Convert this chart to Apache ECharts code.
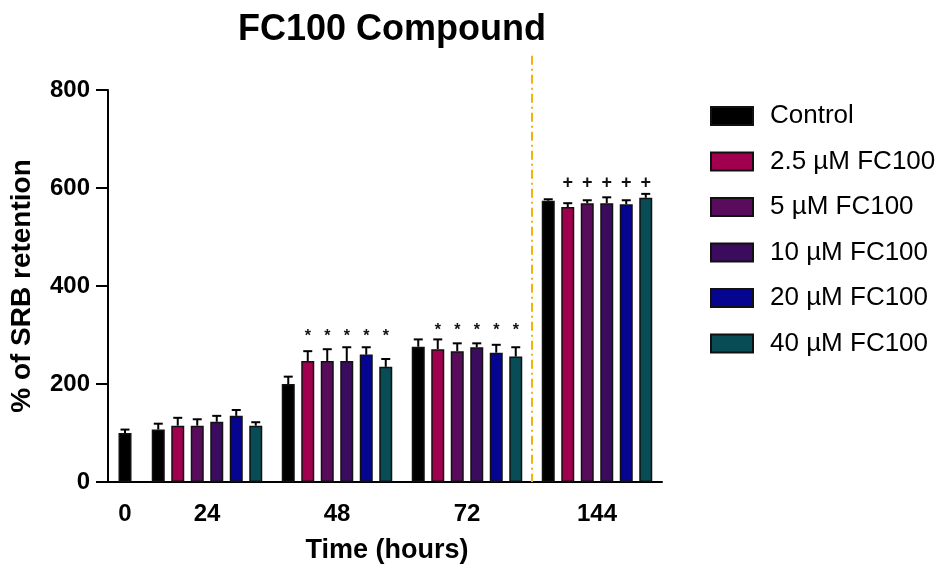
<!DOCTYPE html>
<html>
<head>
<meta charset="utf-8">
<script src="https://cdn.jsdelivr.net/npm/echarts@6/dist/echarts.min.js"></script>
<style>html,body{margin:0;padding:0;background:#fff}#c{width:939px;height:570px}</style>
</head>
<body>
<div id="c"></div>
<script>
// ---- data ----
const title = 'FC100 Compound';
const xName = 'Time (hours)';
const yName = '% of SRB retention';
const catsA = ['0'];
const catsB = ['24', '48', '72', '144'];
const seriesNames = ['Control', '2.5 µM FC100', '5 µM FC100', '10 µM FC100', '20 µM FC100', '40 µM FC100'];
const control0 = [100];
const control0Err = [7];
const controlVals = [107, 200, 276, 574];
const controlErr = [12, 15, 15, 3];
const fc25Vals = [115, 247, 271, 561];
const fc25Err = [16, 20, 20, 8];
const fc5Vals = [115, 247, 267, 569];
const fc5Err = [13, 24, 16, 6];
const fc10Vals = [123, 247, 275, 569];
const fc10Err = [12, 28, 8, 12];
const fc20Vals = [135, 260, 264, 567];
const fc20Err = [12, 15, 16, 8];
const fc40Vals = [115, 235, 256, 580];
const fc40Err = [7, 16, 19, 8];
const sigMarks = ['', '*', '*', '+'];
const sigLevels = [0, 296, 310, 610];
const yTicks = [0, 200, 400, 600, 800];

// ---- styling ----
const colors = ['#000000', '#a0004e', '#5a0c5c', '#3b0c5e', '#06058f', '#084c55'];
const FONT = 'Liberation Sans, Arial, sans-serif';
const BW = 13, GAP = 6.5;

const chart = echarts.init(document.getElementById('c'), null, {renderer: 'canvas'});

const valsB = [controlVals, fc25Vals, fc5Vals, fc10Vals, fc20Vals, fc40Vals];
const errsB = [controlErr, fc25Err, fc5Err, fc10Err, fc20Err, fc40Err];

function errRender(idx, n, withMarks) {
  return function (params, api) {
    const cat = api.value(0), mean = api.value(1), err = api.value(2);
    const base = api.coord([cat, mean]);
    const top = api.coord([cat, mean + err]);
    const total = n * BW + (n - 1) * GAP;
    const x = base[0] - total / 2 + idx * (BW + GAP) + BW / 2;
    const st = {stroke: '#000', lineWidth: 2};
    const children = [
      {type: 'line', shape: {x1: x, y1: base[1], x2: x, y2: top[1]}, style: st},
      {type: 'line', shape: {x1: x - 4.5, y1: top[1], x2: x + 4.5, y2: top[1]}, style: st}
    ];
    if (withMarks && idx > 0 && sigMarks[cat]) {
      const m = api.coord([cat, sigLevels[cat]]);
      children.push({type: 'text', style: {x: x, y: m[1], text: sigMarks[cat], fill: '#111',
        font: (sigMarks[cat] === '+' ? 'bold 18px ' : 'bold 16px ') + FONT, align: 'center', verticalAlign: 'middle'}});
    }
    return {type: 'group', children: children};
  };
}

const series = [];
// time 0 (grid A)
series.push({
  name: seriesNames[0], type: 'bar', xAxisIndex: 0, yAxisIndex: 0, barWidth: BW,
  data: control0, itemStyle: {color: colors[0], borderColor: '#111', borderWidth: 1.5}
});
series.push({
  name: 'err0', type: 'custom', xAxisIndex: 0, yAxisIndex: 0, z: 5,
  renderItem: errRender(0, 1, false),
  data: control0.map((v, i) => [i, v, control0Err[i]]), encode: {x: 0, y: 1}
});
// other times (grid B)
seriesNames.forEach((nm, k) => {
  series.push({
    name: nm, type: 'bar', xAxisIndex: 1, yAxisIndex: 1, barWidth: BW, barGap: (GAP / BW * 100) + '%',
    data: valsB[k], itemStyle: {color: colors[k], borderColor: '#111', borderWidth: 1.5}
  });
});
seriesNames.forEach((nm, k) => {
  series.push({
    name: 'err' + k, type: 'custom', xAxisIndex: 1, yAxisIndex: 1, z: 5,
    renderItem: errRender(k, seriesNames.length, true),
    data: valsB[k].map((v, i) => [i, v, errsB[k][i]]), encode: {x: 0, y: 1}
  });
});

const axisLineStyle = {color: '#000', width: 2};
const tickLabel = {color: '#000', fontFamily: FONT, fontWeight: 'bold', fontSize: 24};

chart.setOption({
  animation: false,
  backgroundColor: '#fff',
  title: {text: title, left: 387, top: 7, textAlign: 'center',
    textStyle: {fontFamily: FONT, fontWeight: 'bold', fontSize: 36, color: '#000'}},
  legend: {
    data: seriesNames, orient: 'vertical', left: 705, top: 98,
    itemWidth: 42, itemHeight: 18, itemGap: 19.5, icon: 'rect',
    textStyle: {fontFamily: FONT, fontSize: 26, color: '#000', lineHeight: 26, padding: [0, 0, 0, 12]}
  },
  grid: [
    {left: 108, width: 34, top: 90, bottom: 88, containLabel: false},
    {left: 142, width: 520, top: 90, bottom: 88, containLabel: false}
  ],
  xAxis: [
    {type: 'category', gridIndex: 0, data: catsA,
      axisLine: {lineStyle: axisLineStyle}, axisTick: {alignWithLabel: true, length: 12, lineStyle: axisLineStyle},
      axisLabel: Object.assign({margin: 20}, tickLabel)},
    {type: 'category', gridIndex: 1, data: catsB,
      name: xName, nameLocation: 'middle', nameGap: 55,
      nameTextStyle: {fontFamily: FONT, fontWeight: 'bold', fontSize: 27, color: '#000', padding: [0, 30, 0, 0]},
      axisLine: {lineStyle: axisLineStyle}, axisTick: {alignWithLabel: true, length: 12, lineStyle: axisLineStyle},
      axisLabel: Object.assign({margin: 20}, tickLabel)}
  ],
  yAxis: [
    {type: 'value', gridIndex: 0, min: 0, max: 800, interval: 200,
      name: yName, nameLocation: 'middle', nameGap: 72, nameRotate: 90,
      nameTextStyle: {fontFamily: FONT, fontWeight: 'bold', fontSize: 28, color: '#000'},
      axisLine: {show: true, lineStyle: axisLineStyle},
      axisTick: {show: true, length: 12, lineStyle: axisLineStyle},
      splitLine: {show: false},
      axisLabel: Object.assign({margin: 18}, tickLabel)},
    {type: 'value', gridIndex: 1, min: 0, max: 800, interval: 200, show: false, splitLine: {show: false}}
  ],
  series: series
});

// separator line between 72 h and 144 h
const p72 = chart.convertToPixel({xAxisIndex: 1}, catsB[2]);
const p144 = chart.convertToPixel({xAxisIndex: 1}, catsB[3]);
const yBottom = chart.convertToPixel({yAxisIndex: 1}, 0);
const yTop = chart.convertToPixel({yAxisIndex: 1}, 870);
const xs = (p72 + p144) / 2;
chart.setOption({
  graphic: [{type: 'line', shape: {x1: xs, y1: yTop, x2: xs, y2: yBottom}, z: 1,
    style: {stroke: '#f2b20c', lineWidth: 2, lineDash: [9, 4, 2, 4]}}]
});
</script>
</body>
</html>
